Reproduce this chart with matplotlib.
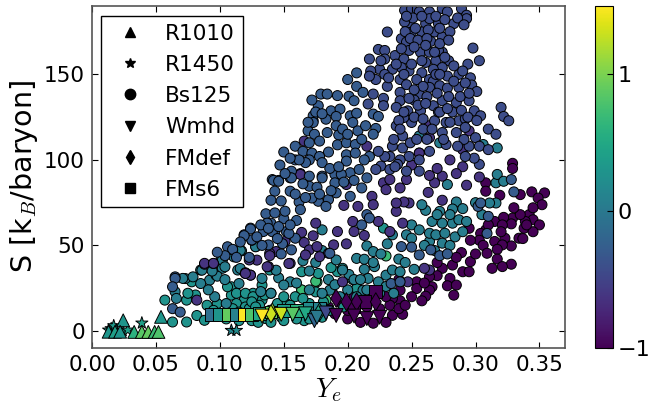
import numpy as np
import matplotlib
matplotlib.use('Agg')
import matplotlib.pyplot as plt

plt.rcParams['mathtext.fontset'] = 'cm'
plt.rcParams['font.family'] = 'DejaVu Sans'

# Ye, S, colour value
navy_c = -0.42
navy = [(.2445,187.5),(.250,188.5),(.256,186.6),(.264,186.6),(.274,188.5),(.278,186.6),(.289,188.5),(.293,184.6),
        (.293,182.6),(.283,179.7),(.271,179.7),(.261,179.7),(.248,179.7),(.2445,180.7),(.264,182.6),(.231,174.8),
        (.250,174.8),(.258,174.8),(.268,174.8),(.274,171.9),(.242,170.9),(.246,168.9),(.265,169.3),(.248,164),
        (.257,163),(.264,163),(.274,163),(.271,164),(.224,164.6),(.229,164),(.298,165.4),(.303,158),(.217,159),
        (.237,161),(.244,159),(.261,157),(.269,158),(.279,158),(.294,156),(.229,159),(.274,154),(.267,153),
        (.258,151),(.248,152),(.242,154),(.235,153),(.225,153),(.218,152),(.229,150),(.222,147),(.217,149),
        (.241,147),(.246,144),(.264,147),(.278,149),(.287,150),(.296,148),(.267,146),(.272,143.4),(.278,142),
        (.287,142.4),(.297,143.8),(.301,140),(.241,139.5),(.256,138.5),(.264,142.4),(.231,143),(.220,138.5),
        (.228,136),(.241,134.6),(.238,130.7),(.247,128.7),(.257,128.7),(.267,131.7),(.274,134.6),(.285,133.6),
        (.295,134.6),(.299,128.7),(.304,125.8),(.320,130.7),(.322,125.4),(.326,122.9),(.228,131.7),(.216,132.7),
        (.287,122.9),(.277,121.9),(.268,122.9),(.250,121.9),(.238,119.9),(.244,124.8),(.274,116),(.285,116),
        (.300,113),(.310,118),(.316,115),(.295,108),(.277,109),(.264,105),(.243,107),(.235,108),(.233,102),
        (.248,102),(.241,100),(.226,96.4),(.222,94.4),(.233,94.4),(.239,97.4),(.246,93.4),(.256,93.4),(.303,97.4),
        (.299,101),(.252,135),(.282,128),(.292,124),(.259,118),(.243,114),(.291,112),(.256,100),(.271,128),
        (.251,183),(.246,184),(.258,184),(.269,184),(.276,182),(.286,183),(.291,179),(.253,177),(.263,176),
        (.272,177),(.280,175),(.245,175),(.249,171),(.255,170),(.262,171),(.272,168),(.279,170),(.242,165),
        (.252,166),(.261,167),(.268,163),(.276,160),(.283,155),(.290,152),(.258,158),(.250,156),(.238,156),
        (.232,148),(.226,158),(.254,147),(.259,143),(.269,150),(.283,146),(.292,145),(.272,150),(.244,150),
        (.252,141),(.262,137),(.270,139),(.279,137),(.288,137),(.295,139),(.248,136),(.255,132),(.261,133),
        (.272,128),(.278,130),(.289,129),(.294,125),(.301,123),(.244,128),(.240,123),(.252,125),(.259,124),
        (.266,118),(.280,122),(.292,119),(.275,112),(.286,108),(.292,102),(.303,108),(.310,106),(.236,112),
        (.241,118),(.249,110),(.254,112),(.262,112),(.229,102),(.237,96),(.224,105)]

blue_c = -0.28
blue = [(.200,147),(.207,150.9),(.207,143),(.212,139.5),(.201,137.2),(.192,137.6),(.179,138.5),(.184,138.5),
        (.205,134.6),(.177,131.7),(.173,125.8),(.187,128.7),(.194,129.7),(.191,125.4),(.202,125.8),(.207,127.3),
        (.220,126.8),(.224,125.4),(.183,123.8),(.191,120),(.204,121.9),(.169,117),(.173,121.9),(.184,116),
        (.193,114.6),(.208,117),(.222,118.4),(.220,115),(.174,115),(.178,111),(.192,108.8),(.199,110),(.206,109),
        (.211,112),(.159,108),(.150,104.6),(.165,105),(.172,104),(.185,104.6),(.178,102),(.170,100),(.159,100),
        (.199,103),(.206,104),(.217,102),(.213,100),(.199,99.3),(.180,98.4),(.167,98.4),(.156,93.4),(.170,90.5),
        (.180,90.5),(.190,91.5),(.202,92.5),(.209,94.4),(.141,88.5),(.146,88),(.155,89.5),(.195,91.5),(.215,89.5),
        (.142,88),(.146,87.5),(.143,81.7),(.140,76.4),(.155,81.7),(.162,75.4),(.163,70.9),(.156,89.5),(.170,84.6),
        (.177,75.8),(.185,76.8),(.183,72.8),(.172,77.7),(.180,89.5),(.190,86.6),(.191,80.7),(.211,83.6),(.202,78.7),
        (.136,68.5),(.160,64.6),(.150,65.6),(.140,63),(.134,58.1),(.124,60.1),(.119,56.2),(.143,58.1),(.152,58.1),
        (.159,54.2),(.125,53.2),(.138,50.3),(.156,47.4),(.110,47.4),(.124,59.6),(.119,55.7),(.106,49.2),(.110,47.7),
        (.123,43),(.065,31.6),(.065,30.7),(.063,25.8),(.063,13),(.069,11),(.149,51),(.154,57),(.141,58),(.137,63),
        (.215,68),(.217,66),(.211,62),(.265,47.4),(.272,44),(.278,45),(.250,49),(.242,49.3),(.256,44.4),(.186,45.4),
        (.234,27.7),(.241,28.7),(.219,19),(.309,57),(.302,72.8),(.304,74.8),(.310,67),(.328,88.5),(.330,81.3),
        (.172,135),(.175,128),(.169,122),(.180,127),(.196,118),(.200,115),(.214,120),(.170,110),(.162,100),
        (.155,101),(.147,97),(.151,92),(.186,95),(.193,96),(.197,87),(.205,88),(.165,86),(.176,84),(.159,80),
        (.167,78),(.178,80),(.187,82),(.148,76),(.151,70),(.143,69),(.132,62),(.138,60),(.146,61),(.155,62),
        (.129,55),(.145,54),(.133,50),(.148,45),(.116,52),(.113,43),(.104,44),(.098,46)]

purple_c = -0.62
purple = [(.163,92),(.166,111),(.173,123),(.215,108),(.264,120),(.256,104),(.295,117),(.197,73.4),(.208,72.8),
          (.219,78.7),(.199,85.6),(.220,73.8),(.163,91.5),(.164,57.6),(.151,52.3),(.144,46.4),(.139,45.4),
          (.166,51.7),(.170,47.4),(.176,49.3),(.175,63),(.173,55.6),(.204,64),(.224,64),(.233,58.1),(.192,58.1),
          (.205,58.1),(.213,55.8),(.199,50.9),(.189,50.3),(.185,45.4),(.178,43.4),(.167,44.4),(.155,39.5),
          (.243,63),(.248,74.8),(.244,75.4),(.263,81),(.238,69.9),(.228,86.6),(.241,83.6),(.268,86.6),(.274,90.5),
          (.264,90.9),(.293,85.2),(.138,37.6),(.124,32.6),(.120,34),(.196,28.7),(.247,28.7),(.264,35.6),(.260,36.6),
          (.125,53),(.129,41.4),(.139,44),(.124,32.6),(.120,33.6),(.137,37.5),(.154,39.4),(.095,39.4),(.088,39),
          (.082,18),(.123,41.5),(.088,39.5),(.095,39.5),(.274,76.4),(.238,74.8),(.230,82.6),(.233,88.5),(.246,88.5),
          (.264,113),(.290,106),(.280,100),(.290,96),(.303,90),(.250,97),(.256,104),(.285,92),(.270,95)]

teal_c = 0.05
teal = [(.256,114),(.272,110),(.317,107),(.306,109),(.128,49.3),(.117,46.8),(.180,59.1),(.215,49.7),(.220,46.4),
        (.231,50.9),(.235,56.2),(.250,62),(.256,59.1),(.246,56.2),(.250,54.2),(.264,52.3),(.264,57.1),(.269,56.2),
        (.266,64),(.272,69.9),(.261,70.5),(.258,73.8),(.285,75.4),(.290,71.5),(.282,71.3),(.274,63),(.282,63),
        (.287,65),(.293,64),(.276,57.1),(.274,51.3),(.278,85.6),(.316,86.6),(.316,74.8),(.311,74.8),(.317,91.5),
        (.322,87.5),(.191,41.5),(.213,36),(.221,37.6),(.201,33),(.155,28.7),(.146,31),(.150,26.8),(.133,30.7),
        (.114,35.6),(.216,30.7),(.224,28.7),(.230,32.6),(.235,35.6),(.241,34.6),(.225,22),(.212,23.8),(.186,23.8),
        (.196,35.6),(.207,20),(.194,20),(.207,42.4),(.213,41.9),(.085,35.6),(.092,29.7),(.097,32.6),(.101,41.5),
        (.102,36.6),(.085,27.7),(.096,20),(.115,27.7),(.120,33.6),(.105,16),(.132,23),(.140,22),(.128,49.2),
        (.116,47),(.111,43.3),(.102,41.4),(.104,37.5),(.086,35.5),(.116,36.5),(.073,30.6),(.079,31.6),(.098,32),
        (.144,35.5),(.065,22.9),(.066,19),(.071,30.7),(.104,30),(.091,24),(.094,35),(.240,42),(.245,40),(.252,36),
        (.260,50),(.268,47),(.280,50),(.284,55),(.270,68),(.280,68),(.290,58),(.300,75),(.305,68),(.220,40),
        (.226,45),(.175,40),(.165,41),(.180,47),(.170,35),(.185,30),(.190,27),(.200,24),(.205,30),(.210,30),
        (.215,24),(.230,26),(.236,22),(.160,28),(.170,24),(.180,22)]

green_c = 0.28
green = [(.228,60.1),(.192,34.6),(.187,37),(.196,36.6),(.177,33.6),(.164,34.6),(.139,35.6),(.140,22),(.133,26.8),
         (.126,22),(.119,18),(.159,20),(.175,22.8),(.207,24.8),(.181,17),(.170,16),(.109,25.8),(.109,20.9),
         (.113,16),(.133,18),(.120,14),(.139,12),(.152,16),(.136,7.2),(.057,18),(.074,18),(.081,21),(.078,28.7),
         (.106,25.8),(.113,22),(.082,9),(.088,6.2),(.063,5.2),(.074,5.2),(.075,22),(.098,16),(.120,22),(.126,20),
         (.108,12),(.131,15),(.123,13),(.204,30),(.186,12),(.197,14),(.148,8),(.166,6),(.110,13),(.115,11),
         (.125,17),(.128,14),(.135,21),(.145,16),(.150,20),(.155,15),(.165,19),(.090,15),(.095,12),(.100,10),
         (.105,7),(.115,6),(.125,6),(.130,5),(.140,5),(.150,6),(.160,7),(.170,7),(.180,8)]

bright_c = 0.7
bright = [(.230,43.8),(.176,28.7),(.164,23.8),(.164,24),(.175,29),(.207,25),(.183,18)]

dark_c = -1.0
dark = [(.315,64),(.329,66),(.328,62.6),(.342,68),(.345,65),(.339,64),(.350,62),(.338,60),(.345,58),(.334,54.2),
        (.337,54),(.323,54.2),(.308,59),(.304,57),(.303,53),(.296,53),(.315,52.3),(.306,50),(.328,49.7),(.321,50.3),
        (.317,47.7),(.309,45.4),(.317,42),(.328,39),(.321,37.6),(.313,36.6),(.296,40.5),(.289,45.8),(.290,34.6),
        (.295,34.6),(.282,38.5),(.274,36.6),(.270,32.3),(.264,31.7),(.254,28.7),(.280,30.7),(.278,26.4),(.285,26.8),
        (.266,25.8),(.264,23.8),(.261,20.3),(.258,17.6),(.283,20.9),(.254,24.8),(.241,23.8),(.241,17.6),(.235,19),
        (.243,9.7),(.235,9.1),(.233,15),(.308,86.6),(.308,81.7),(.319,79.3),(.344,81.3),(.354,80.7),(.349,77.7),
        (.352,73.8),(.335,79.7),(.322,66.4),(.321,62),(.190,10),(.200,7),(.210,5),(.220,4.5),(.230,5),(.195,16),
        (.205,20),(.215,14),(.225,13),(.230,20),(.240,13),(.245,15),(.210,22),(.200,12),(.185,14),(.240,30),
        (.250,20),(.260,28),(.270,40),(.285,43),(.300,45),(.310,62),(.320,58),(.335,68),(.340,62),(.345,72),
        (.330,72),(.295,60),(.329,98),(.329,95)]

r1010 = [(.0244,6.2,.3),(.054,8.2,.3),(.013,-.5,.3),(.018,-.5,.4),(.022,-.5,.3),(.033,-.6,.6),(.039,-.6,.85),
         (.044,-.6,.9),(.049,-.6,.7),(.052,-.6,.8)]
r1450 = [(.013,.5,.3),(.015,1.3,.3),(.017,3,.35),(.019,.5,.3),(.024,.2,.3),(.028,.5,.4),(.039,4.6,.4),
         (.109,.3,.15),(.113,.3,.2)]
fms6 = [(.0933,9.5,-.1),(.100,9.5,.3),(.107,9.5,.9),(.113,9.5,.1),(.119,9.5,1.5),(.125,9.5,.8),(.131,10,.5),
        (.140,11,.9),(.150,12,.4),(.160,12,.6),(.170,13,.2),(.178,13,.1),(.222,22.9,-1),(.213,17,-1),(.205,14,-1)]
fmdef = [(.141,11,1.1),(.140,10,1.3),(.178,11,.5),(.222,17,-1),(.207,17,-1),(.199,17,-1),(.191,19,-1)]
wmhd = [(.133,8.7,1.5),(.148,9.7,1.3),(.157,9.7,.85),(.167,10,.5),(.174,6,-.2),(.176,8,0),(.183,10.5,-.45),
        (.191,9,-1),(.205,8.7,-1),(.215,7.2,-1),(.225,8,-1)]

xticks = [0.00, 0.05, 0.10, 0.15, 0.20, 0.25, 0.30, 0.35]
yticks = [0, 50, 100, 150]
cticks = [-1, 0, 1]
names = ['R1010', 'R1450', 'Bs125', 'Wmhd', 'FMdef', 'FMs6']
shapes = ['^', '*', 'o', 'v', 'd', 's']

fig = plt.figure(figsize=(6.5, 4.04), dpi=100)
ax = fig.add_axes([92/650, 1-348/404, (565-92)/650, (348-6)/404])
norm = plt.Normalize(-1.0, 1.5)
kw = dict(cmap='viridis', norm=norm, edgecolors='k', linewidths=0.7)

groups = [(dark, dark_c), (bright, bright_c), (green, green_c), (teal, teal_c),
          (purple, purple_c), (blue, blue_c), (navy, navy_c)]
for pts, c in groups:
    pts = np.array(pts)
    sc = ax.scatter(pts[:, 0], pts[:, 1], c=np.full(len(pts), c), s=52, marker='o', **kw)

for pts, m, size in [(fms6, 's', 85), (fmdef, 'd', 85), (wmhd, 'v', 100), (r1450, '*', 85), (r1010, '^', 85)]:
    pts = np.array(pts)
    ax.scatter(pts[:, 0], pts[:, 1], c=pts[:, 2], s=size, marker=m, **kw)

ax.set_xlim(0, 0.37)
ax.set_ylim(-10, 190)
ax.set_xticks(xticks)
ax.set_xticklabels(['%.2f' % t for t in xticks])
ax.set_yticks(yticks)
ax.tick_params(direction='in', top=True, right=True, labelsize=15.5, length=4, pad=5)
for sp in ax.spines.values():
    sp.set_color('#555555')
    sp.set_linewidth(1.2)
ax.set_xlabel('$Y_e$', fontsize=20, labelpad=1)
ax.set_ylabel('S [k$_B$/baryon]', fontsize=20.5, labelpad=3)

handles = [plt.Line2D([], [], ls='', marker=m, color='k', markersize=7.5) for m in shapes]
ax.legend(handles, names, loc='upper left', bbox_to_anchor=(0.019, 0.971), borderaxespad=0, fontsize=15.6,
          fancybox=False, edgecolor='k', framealpha=1, labelspacing=0.52, handletextpad=0.62, borderpad=0.35,
          numpoints=1)

cax = fig.add_axes([595/650, 1-348/404, 18/650, (348-6)/404])
cb = fig.colorbar(plt.cm.ScalarMappable(norm=norm, cmap='viridis'), cax=cax, ticks=cticks)
cb.ax.tick_params(labelsize=16, direction='in', length=4)
cb.outline.set_linewidth(0.8)

fig.savefig('out.png', dpi=100)
